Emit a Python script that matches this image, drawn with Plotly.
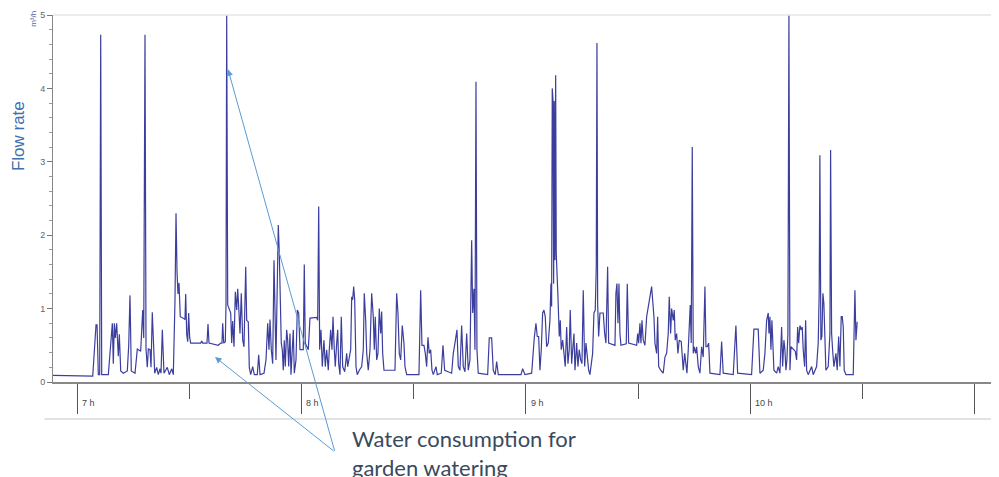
import plotly.graph_objects as go

# Time in minutes after 07:00, flow rate in m3/h
time_min = [
    -6.41, 4.20, 5.08, 5.35, 5.70, 6.06, 6.33, 6.60, 8.37, 9.09,
    9.44, 9.70, 9.97, 10.24, 10.60, 11.04, 11.31, 11.68, 12.37, 13.44,
    13.82, 14.16, 14.51, 15.50, 16.12, 17.02, 17.56, 17.83, 18.17, 18.44,
    18.79, 19.06, 19.51, 19.78, 20.12, 20.39, 20.77, 21.30, 21.73, 22.18,
    22.45, 22.80, 23.25, 24.13, 24.67, 25.31, 25.74, 26.19, 26.46, 26.73,
    26.99, 27.26, 27.61, 28.41, 28.86, 29.05, 29.32, 29.58, 29.85, 30.12,
    30.39, 33.06, 33.33, 33.59, 34.74, 35.01, 35.28, 37.76, 38.41, 38.75,
    38.94, 39.21, 39.64, 39.82, 40.01, 40.28, 40.70, 41.08, 41.34, 41.61,
    41.96, 42.31, 42.68, 42.95, 43.30, 43.56, 43.91, 44.29, 44.63, 45.09,
    45.35, 45.78, 46.05, 46.42, 46.96, 47.39, 48.19, 48.56, 48.91, 49.98,
    50.51, 50.97, 51.31, 51.58, 51.93, 52.30, 52.65, 52.92, 53.18, 53.53,
    53.80, 54.07, 54.33, 54.60, 54.87, 55.13, 55.40, 55.67, 56.04, 56.31,
    56.58, 56.93, 57.19, 57.46, 57.81, 58.08, 58.53, 58.88, 59.25, 59.60,
    60.48, 60.75, 61.01, 61.82, 62.27, 64.06, 64.33, 64.60, 64.86, 65.21,
    65.56, 66.01, 66.36, 66.73, 67.16, 67.43, 67.80, 68.15, 68.42, 68.77,
    69.03, 69.41, 69.68, 69.94, 70.29, 70.64, 71.01, 71.55, 72.08, 72.35,
    72.69, 73.15, 73.42, 73.68, 73.95, 74.22, 74.57, 74.91, 75.45, 76.09,
    76.52, 76.78, 77.16, 77.43, 77.85, 78.31, 78.76, 79.19, 79.46, 79.72,
    80.10, 80.44, 80.79, 81.17, 81.43, 81.70, 82.05, 84.99, 85.44, 85.79,
    86.14, 86.51, 86.94, 87.39, 87.66, 88.12, 91.40, 91.86, 92.20, 92.74,
    93.09, 93.46, 93.81, 94.15, 94.53, 94.88, 95.23, 95.95, 96.29, 97.36,
    97.82, 98.27, 100.14, 100.57, 101.02, 101.56, 101.91, 102.36, 102.81, 103.24,
    103.70, 104.15, 104.58, 105.03, 105.49, 105.76, 106.10, 106.37, 106.64, 106.90,
    107.25, 109.76, 110.19, 110.83, 111.26, 111.79, 112.17, 112.60, 118.66, 119.12,
    119.73, 121.52, 122.22, 122.67, 123.02, 123.39, 123.74, 124.09, 124.46, 124.81,
    125.16, 125.53, 125.96, 126.41, 126.68, 126.86, 127.03, 127.22, 127.40, 127.56,
    127.75, 127.94, 128.10, 128.28, 128.55, 128.90, 129.17, 129.43, 129.81, 130.16,
    130.50, 130.88, 131.22, 131.57, 131.84, 132.21, 132.56, 132.83, 133.10, 133.55,
    133.90, 134.24, 134.62, 134.97, 135.32, 135.69, 136.04, 136.38, 136.76, 137.10,
    137.45, 137.82, 138.17, 138.52, 138.79, 138.98, 139.16, 139.43, 139.78, 140.66,
    141.03, 141.38, 141.83, 142.10, 143.79, 144.05, 144.32, 144.59, 144.86, 145.12,
    145.39, 146.81, 147.08, 147.45, 149.59, 149.86, 150.12, 150.47, 150.74, 151.01,
    151.35, 151.80, 152.26, 152.69, 153.14, 153.59, 153.86, 154.21, 154.48, 154.93,
    155.20, 155.47, 156.00, 156.69, 157.15, 157.60, 158.03, 158.30, 158.67, 158.94,
    159.37, 159.64, 159.90, 160.28, 160.62, 160.97, 161.51, 162.04, 162.42, 162.68,
    163.03, 163.38, 163.64, 163.91, 164.18, 164.45, 164.72, 164.98, 165.36, 165.62,
    166.05, 166.50, 166.96, 167.38, 167.84, 168.11, 168.45, 168.83, 169.18, 171.85,
    172.30, 172.73, 175.40, 176.12, 176.58, 180.31, 180.93, 182.08, 182.54, 183.42,
    183.87, 184.33, 184.76, 184.95, 185.21, 185.48, 185.75, 186.01, 186.28, 187.00,
    187.43, 187.88, 188.34, 188.61, 188.95, 189.22, 189.49, 189.75, 190.02, 190.29,
    190.56, 190.82, 191.98, 192.35, 192.62, 192.88, 193.23, 193.58, 193.85, 194.11,
    194.49, 194.76, 195.02, 195.45, 196.36, 196.78, 197.69, 198.12, 198.38, 198.56,
    198.83, 199.10, 199.37, 199.63, 199.90, 200.17, 200.79, 201.25, 201.43, 201.70,
    201.96, 202.31, 202.85, 203.20, 203.58, 203.92, 204.27, 204.54, 204.81, 205.07,
    205.53, 207.48, 207.93, 208.20, 208.54,
]

flow = [
    0.09, 0.08, 0.78, 0.78, 0.10, 0.10, 4.73, 0.10, 0.10, 0.55,
    0.80, 0.25, 0.80, 0.60, 0.80, 0.35, 0.65, 0.15, 0.12, 0.15,
    0.50, 1.18, 0.15, 0.12, 0.45, 0.42, 0.98, 0.60, 4.73, 0.45,
    0.20, 0.45, 0.44, 0.20, 0.95, 0.60, 0.12, 0.20, 0.10, 0.18,
    0.12, 0.71, 0.12, 0.20, 0.10, 0.18, 0.10, 1.12, 2.30, 1.50,
    1.20, 1.35, 0.89, 0.87, 0.85, 1.20, 0.65, 0.55, 0.94, 0.60,
    0.53, 0.53, 0.56, 0.53, 0.53, 0.79, 0.53, 0.50, 0.53, 0.53,
    0.80, 0.53, 0.55, 1.05, 5.00, 1.05, 0.98, 0.94, 0.53, 0.83,
    0.48, 1.23, 0.98, 1.27, 0.94, 0.66, 1.21, 0.57, 0.48, 1.57,
    0.84, 0.82, 0.20, 0.10, 0.21, 0.10, 0.10, 0.37, 0.10, 0.12,
    0.30, 0.80, 0.44, 0.85, 0.44, 0.25, 1.66, 1.12, 0.30, 1.34,
    2.14, 1.75, 1.12, 0.53, 0.44, 0.16, 0.57, 0.21, 0.71, 0.57,
    0.21, 0.66, 0.10, 0.39, 0.71, 0.12, 0.30, 0.98, 0.94, 0.44,
    0.44, 1.60, 0.53, 0.44, 0.87, 0.88, 0.84, 2.39, 0.44, 0.71,
    0.21, 0.57, 0.21, 0.44, 0.16, 0.44, 0.71, 0.44, 0.89, 0.44,
    0.21, 0.53, 0.71, 0.25, 0.10, 0.89, 0.21, 0.14, 0.39, 0.21,
    0.30, 0.44, 1.16, 1.12, 1.30, 1.12, 0.21, 0.10, 0.16, 0.21,
    0.44, 1.21, 0.84, 0.39, 0.16, 0.44, 1.21, 0.89, 0.44, 0.89,
    0.30, 0.39, 1.00, 0.66, 0.96, 0.39, 0.16, 0.16, 1.21, 0.94,
    0.39, 0.30, 0.77, 0.53, 0.21, 0.10, 0.10, 1.25, 0.50, 0.50,
    0.39, 0.21, 0.61, 0.39, 0.44, 0.16, 0.10, 0.21, 0.10, 0.12,
    0.50, 0.16, 0.12, 0.39, 0.53, 0.71, 0.21, 0.16, 0.77, 0.21,
    0.14, 0.66, 0.16, 0.30, 1.93, 0.94, 1.27, 0.44, 4.09, 0.44,
    0.12, 0.10, 0.60, 0.60, 0.16, 0.10, 0.28, 0.10, 0.10, 0.18,
    0.10, 0.12, 0.60, 0.80, 0.62, 0.62, 0.16, 0.44, 0.94, 0.98,
    0.89, 0.48, 0.53, 0.84, 1.34, 1.03, 4.00, 3.85, 1.34, 3.83,
    1.66, 4.18, 1.75, 1.34, 1.16, 0.62, 0.84, 0.44, 0.57, 0.39,
    0.21, 0.75, 0.25, 0.44, 0.98, 0.25, 0.44, 0.66, 0.16, 0.53,
    0.21, 0.44, 0.30, 0.25, 1.25, 0.21, 0.53, 0.30, 0.16, 0.10,
    0.21, 0.39, 0.94, 0.98, 1.57, 4.62, 1.07, 0.62, 0.94, 0.94,
    0.66, 0.53, 1.57, 0.53, 0.50, 1.21, 1.34, 0.80, 1.34, 0.66,
    0.50, 0.52, 1.34, 0.53, 0.50, 0.66, 0.53, 0.80, 0.53, 0.84,
    0.57, 0.50, 0.89, 1.03, 1.21, 1.30, 1.12, 0.89, 0.53, 0.39,
    0.89, 0.21, 0.16, 0.12, 0.34, 0.39, 0.66, 1.16, 0.66, 1.00,
    0.84, 0.98, 0.57, 0.66, 0.39, 0.57, 0.55, 0.16, 0.39, 0.25,
    0.12, 0.44, 0.84, 1.05, 0.53, 3.20, 0.39, 0.48, 0.39, 0.48,
    0.21, 0.12, 0.48, 0.34, 1.30, 0.48, 0.48, 0.53, 0.12, 0.10,
    0.55, 0.12, 0.10, 0.77, 0.12, 0.10, 0.72, 0.72, 0.12, 0.16,
    0.39, 0.84, 0.94, 0.66, 0.89, 0.44, 0.84, 0.39, 0.16, 0.12,
    0.21, 0.12, 0.75, 0.21, 0.57, 0.44, 0.16, 0.30, 0.66, 5.00,
    0.16, 0.48, 0.42, 0.30, 0.75, 0.53, 0.77, 0.71, 0.75, 0.44,
    0.21, 0.84, 0.16, 0.10, 0.21, 0.10, 0.21, 0.53, 1.21, 3.09,
    0.57, 0.62, 1.21, 1.07, 0.44, 0.16, 0.21, 0.66, 3.16, 0.66,
    0.44, 0.21, 0.39, 0.16, 0.62, 0.21, 0.89, 0.89, 0.75, 0.16,
    0.10, 0.10, 1.25, 0.57, 0.82,
]

hour_ticks = [7, 8, 9, 10, 11]
hour_labels = ["7 h", "8 h", "9 h", "10 h", ""]
y_ticks = [0, 1, 2, 3, 4, 5]

time_h = [7 + m / 60.0 for m in time_min]

fig = go.Figure()
fig.add_trace(go.Scatter(
    x=time_h, y=flow, mode="lines",
    line=dict(color="#3c3e9e", width=1.2),
    showlegend=False, hoverinfo="skip",
))

# the page body adds an 8 px margin, so the figure is sized to fit the window
fig.update_layout(
    width=991, height=469,
    margin=dict(l=45, r=3, t=7, b=95),
    paper_bgcolor="white", plot_bgcolor="white",
    font=dict(family="Liberation Sans, Arial, sans-serif"),
    xaxis=dict(
        range=[6.893, 11.094], showgrid=False, zeroline=False,
        tickmode="array", tickvals=hour_ticks, ticktext=["" for _ in hour_ticks],
        ticks="outside", ticklen=30, tickwidth=1.3, tickcolor="#555555",
        showline=True, linecolor="#888888", linewidth=2,
        minor=dict(tickmode="linear", tick0=7.5, dtick=1, ticks="outside",
                   ticklen=15, tickwidth=1.3, tickcolor="#555555"),
    ),
    yaxis=dict(
        range=[0, 5], showgrid=False, zeroline=False,
        tickmode="array", tickvals=y_ticks,
        ticks="outside", ticklen=5, tickcolor="#777777",
        tickfont=dict(size=9, color="#666666"),
        showline=True, linecolor="#888888", linewidth=1,
        minor=dict(tickmode="linear", tick0=0, dtick=0.2, ticks="outside",
                   ticklen=3, tickcolor="#999999"),
    ),
)

# hour labels beside the major ticks
for v, lab in zip(hour_ticks, hour_labels):
    if lab:
        fig.add_annotation(x=v, xref="x", y=0, yref="paper", text=lab,
                           showarrow=False, xanchor="left", yanchor="middle",
                           xshift=3, yshift=-21,
                           font=dict(size=9, color="#444444"))

# frame lines (top, right) and separator beneath the axis
fig.add_shape(type="line", xref="paper", yref="paper", x0=0, x1=1, y0=1, y1=1,
              line=dict(color="#e6e6e6", width=1.5))
fig.add_shape(type="line", xref="paper", yref="paper", x0=1, x1=1, y0=0, y1=1,
              line=dict(color="#e6e6e6", width=1.5))
fig.add_shape(type="line", xref="paper", yref="paper", x0=-0.009, x1=1,
              y0=-0.101, y1=-0.101, line=dict(color="#e2e2e2", width=2))

# axis titles
fig.add_annotation(text="Flow rate", xref="paper", yref="paper",
                   x=-0.0371, y=0.67, textangle=-90, showarrow=False,
                   xanchor="center", yanchor="middle",
                   font=dict(size=17, color="#3e6fae"))
fig.add_annotation(text="m³/h", xref="paper", yref="paper",
                   x=-0.021, y=0.99, textangle=-90, showarrow=False,
                   xanchor="center", yanchor="middle",
                   font=dict(size=8, color="#5a64a8"))

# call-out arrows
fig.add_annotation(x=7.6726, y=4.26, xref="x", yref="y", text="",
                   showarrow=True, ax=107, ay=383, arrowhead=2, arrowsize=1.3,
                   arrowwidth=1, arrowcolor="#5b9bd5")
fig.add_annotation(x=7.6147, y=0.34, xref="x", yref="y", text="",
                   showarrow=True, ax=120, ay=95, arrowhead=2, arrowsize=1.3,
                   arrowwidth=1, arrowcolor="#5b9bd5")
fig.add_annotation(text="Water consumption for<br>garden watering",
                   xref="paper", yref="paper", x=0.315, y=0, xanchor="left",
                   yanchor="top", yshift=-41, align="left", showarrow=False,
                   font=dict(family="Lato, Open Sans, sans-serif", size=22,
                             color="#3a4a5e"))

fig.write_html("out.html")
